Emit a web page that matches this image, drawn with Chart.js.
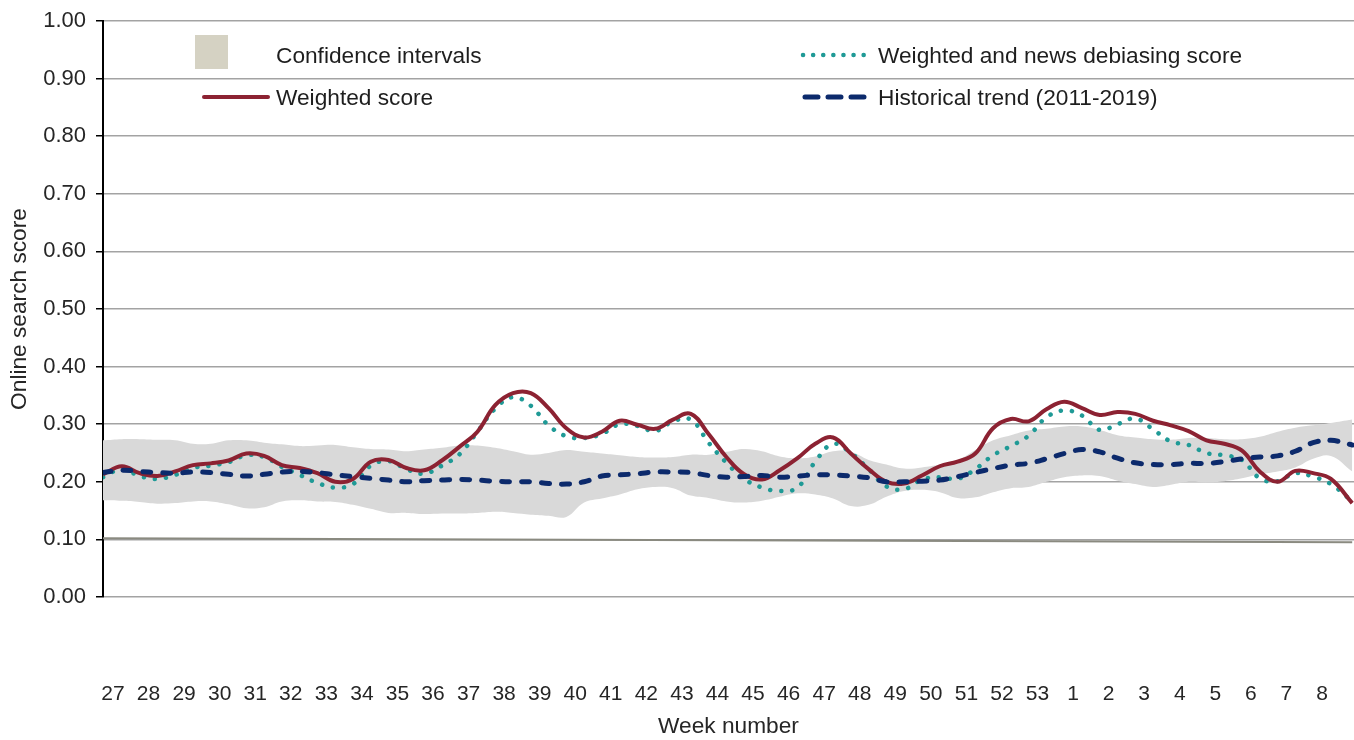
<!DOCTYPE html>
<html>
<head>
<meta charset="utf-8">
<script src="https://cdn.jsdelivr.net/npm/chart.js@4.4.1/dist/chart.umd.min.js"></script>
<style>
body{ margin:0; background:#fff; }
#wrap{ position:relative; width:1354px; height:740px; font-family:"Liberation Sans", Arial, sans-serif; color:#1e1e1e; }
#myChart{ position:absolute; left:0; top:0; }
.lg{ position:absolute; font-size:22.7px; line-height:22px; white-space:nowrap; }
</style>
</head>
<body>
<div id="wrap">
<canvas id="myChart" width="1354" height="740"></canvas>

<div style="position:absolute;left:195px;top:35px;width:33px;height:34px;background:#d5d2c3;"></div>
<div class="lg" style="left:276px;top:44px;">Confidence intervals</div>

<div style="position:absolute;left:202px;top:95px;width:68px;height:4px;border-radius:2px;background:#8c2232;"></div>
<div class="lg" style="left:276px;top:86px;">Weighted score</div>

<svg style="position:absolute;left:798px;top:48px;" width="75" height="14">
  <line x1="5" y1="7" x2="70" y2="7" stroke="#1f9a96" stroke-width="4.5" stroke-linecap="round" stroke-dasharray="0.1 10"/>
</svg>
<div class="lg" style="left:878px;top:44px;">Weighted and news debiasing score</div>

<svg style="position:absolute;left:798px;top:90px;" width="75" height="14">
  <line x1="7" y1="7" x2="68" y2="7" stroke="#0c2a6c" stroke-width="5" stroke-linecap="round" stroke-dasharray="13 10"/>
</svg>
<div class="lg" style="left:878px;top:86px;">Historical trend (2011-2019)</div>
</div>

<script>

//------------------------------------------------------------------
// week labels, one per tick (27 .. 53, then 1 .. 8)

const weekLabels = ['27','28','29','30','31','32','33','34','35','36','37','38','39','40','41','42','43','44','45','46',
                    '47','48','49','50','51','52','53','1','2','3','4','5','6','7','8'];

// position of each reading, in weeks from week 27
const weekPos = [-0.28, 0.25, 0.75, 1.25, 1.75, 2.25, 2.75, 3.25, 3.75, 4.25, 4.75, 5.25, 5.75, 6.25, 6.75,
                 7.25, 7.75, 8.25, 8.75, 9.25, 9.75, 10.25, 10.75, 11.25, 11.75, 12.25, 12.75, 13.25, 13.75,
                 14.25, 14.75, 15.25, 15.75, 16.25, 16.75, 17.25, 17.75, 18.25, 18.75, 19.25, 19.75, 20.25,
                 20.75, 21.25, 21.75, 22.25, 22.75, 23.25, 23.75, 24.25, 24.75, 25.25, 25.75, 26.25, 26.75,
                 27.25, 27.75, 28.25, 28.75, 29.25, 29.75, 30.25, 30.75, 31.25, 31.75, 32.25, 32.75, 33.25,
                 33.75, 34.25, 34.85];

const weighted = [0.213, 0.227, 0.215, 0.210, 0.218, 0.229, 0.232, 0.237, 0.249, 0.245, 0.229, 0.224, 0.215, 0.200,
                  0.205, 0.235, 0.238, 0.224, 0.220, 0.237, 0.261, 0.287, 0.333, 0.354, 0.354, 0.328, 0.293,
                  0.277, 0.287, 0.306, 0.299, 0.292, 0.308, 0.318, 0.283, 0.243, 0.213, 0.204, 0.220, 0.241,
                  0.266, 0.277, 0.249, 0.222, 0.200, 0.197, 0.211, 0.227, 0.235, 0.249, 0.293, 0.309, 0.305,
                  0.326, 0.339, 0.328, 0.316, 0.321, 0.318, 0.306, 0.298, 0.288, 0.272, 0.266, 0.254, 0.218,
                  0.200, 0.219, 0.215, 0.205, 0.163];

const debiased = [0.208, 0.222, 0.210, 0.205, 0.212, 0.224, 0.228, 0.234, 0.246, 0.243, 0.226, 0.212, 0.198, 0.190,
                  0.196, 0.228, 0.236, 0.222, 0.214, 0.228, 0.248, 0.287, 0.327, 0.347, 0.332, 0.298, 0.279,
                  0.276, 0.283, 0.300, 0.297, 0.288, 0.305, 0.308, 0.268, 0.233, 0.205, 0.190, 0.184, 0.190,
                  0.235, 0.266, 0.250, 0.222, 0.192, 0.187, 0.204, 0.208, 0.205, 0.222, 0.246, 0.262, 0.280,
                  0.312, 0.324, 0.315, 0.290, 0.300, 0.310, 0.291, 0.270, 0.264, 0.250, 0.246, 0.238, 0.206,
                  0.201, 0.215, 0.209, 0.196, 0.166];

const historical = [0.216, 0.220, 0.218, 0.216, 0.215, 0.217, 0.216, 0.213, 0.210, 0.213, 0.217, 0.218, 0.216, 0.212,
                    0.209, 0.206, 0.203, 0.200, 0.202, 0.203, 0.204, 0.203, 0.201, 0.200, 0.200, 0.197, 0.196,
                    0.200, 0.210, 0.212, 0.214, 0.217, 0.217, 0.216, 0.211, 0.208, 0.209, 0.211, 0.208, 0.210,
                    0.212, 0.212, 0.210, 0.207, 0.200, 0.200, 0.201, 0.203, 0.209, 0.216, 0.223, 0.229, 0.232,
                    0.240, 0.249, 0.256, 0.252, 0.241, 0.233, 0.230, 0.230, 0.232, 0.232, 0.235, 0.240, 0.243,
                    0.245, 0.253, 0.268, 0.272, 0.264];

const ciUpper = [0.272, 0.274, 0.274, 0.273, 0.272, 0.266, 0.266, 0.272, 0.272, 0.268, 0.265, 0.262, 0.263, 0.264,
                 0.260, 0.257, 0.256, 0.253, 0.256, 0.259, 0.263, 0.263, 0.259, 0.253, 0.247, 0.250, 0.255,
                 0.252, 0.249, 0.246, 0.243, 0.242, 0.243, 0.247, 0.247, 0.252, 0.257, 0.253, 0.244, 0.241,
                 0.244, 0.253, 0.252, 0.238, 0.230, 0.223, 0.225, 0.230, 0.237, 0.255, 0.272, 0.281, 0.289,
                 0.292, 0.296, 0.296, 0.290, 0.281, 0.277, 0.274, 0.273, 0.276, 0.276, 0.274, 0.274, 0.278,
                 0.287, 0.294, 0.298, 0.302, 0.308];

const ciLower = [0.168, 0.167, 0.165, 0.162, 0.163, 0.166, 0.166, 0.161, 0.154, 0.156, 0.166, 0.168, 0.166, 0.165,
                 0.160, 0.153, 0.146, 0.146, 0.144, 0.145, 0.145, 0.146, 0.148, 0.146, 0.143, 0.141, 0.139,
                 0.164, 0.171, 0.178, 0.187, 0.191, 0.189, 0.176, 0.172, 0.166, 0.164, 0.167, 0.174, 0.180,
                 0.178, 0.171, 0.158, 0.160, 0.174, 0.184, 0.186, 0.182, 0.172, 0.173, 0.182, 0.189, 0.191,
                 0.200, 0.208, 0.211, 0.210, 0.202, 0.196, 0.191, 0.195, 0.200, 0.199, 0.201, 0.206, 0.213,
                 0.218, 0.225, 0.240, 0.245, 0.218];

// thin reference line drawn near 0.10
const refPos = [-0.28, 34.85];
const refLine = [0.102, 0.095];

const yTicks = [0, 0.1, 0.2, 0.3, 0.4, 0.5, 0.6, 0.7, 0.8, 0.9, 1.0];

//------------------------------------------------------------------

function pts(xs, ys){
    let out = [];
    for (let i = 0; i < ys.length; i++) {
        out.push({x: xs[i], y: ys[i]});
    }
    return out;
}

const ctx = document.getElementById('myChart');

const kave_chart = new Chart(ctx, {
    type: 'line',
    data: {
        datasets: [
            {
                label: 'Historical trend (2011-2019)',
                data: pts(weekPos, historical),
                borderColor: '#0c2a6c',
                borderWidth: 5,
                borderDash: [8, 12],
                borderCapStyle: 'round',
                pointRadius: 0,
                tension: 0.4,
                fill: false
            },
            {
                label: 'Weighted score',
                data: pts(weekPos, weighted),
                borderColor: '#8c2232',
                borderWidth: 4,
                pointRadius: 0,
                tension: 0.4,
                fill: false
            },
            {
                label: 'Weighted and news debiasing score',
                data: pts(weekPos, debiased),
                borderColor: '#1f9a96',
                borderWidth: 4.5,
                borderDash: [0.1, 11],
                borderCapStyle: 'round',
                pointRadius: 0,
                tension: 0.4,
                fill: false
            },
            {
                label: 'ref',
                data: pts(refPos, refLine),
                borderColor: '#8a8a80',
                borderWidth: 2,
                pointRadius: 0,
                fill: false
            },
            {
                label: 'Confidence intervals',
                data: pts(weekPos, ciUpper),
                borderWidth: 0,
                borderColor: 'rgba(0,0,0,0)',
                backgroundColor: '#d9d9d9',
                pointRadius: 0,
                tension: 0.4,
                fill: '+1'
            },
            {
                label: 'ci lower',
                data: pts(weekPos, ciLower),
                borderWidth: 0,
                borderColor: 'rgba(0,0,0,0)',
                pointRadius: 0,
                tension: 0.4,
                fill: false
            }
        ]
    },
    options: {
        responsive: false,
        animation: false,
        layout: { padding: { top: 21, right: 0, bottom: 0, left: 0 } },
        plugins: {
            legend: { display: false },
            tooltip: { enabled: false }
        },
        scales: {
            x: {
                type: 'linear',
                min: -0.28,
                max: 34.9,
                afterBuildTicks: function(axis){
                    axis.ticks = weekLabels.map(function(_, i){ return {value: i}; });
                },
                afterFit: function(axis){
                    axis.height = 143;
                    axis.paddingLeft = 0;
                    axis.paddingRight = 0;
                },
                grid: { display: false, drawTicks: false },
                border: { display: false },
                ticks: {
                    autoSkip: false,
                    maxRotation: 0,
                    padding: 85,
                    color: '#262626',
                    font: { family: '"Liberation Sans", Arial', size: 21 },
                    callback: function(v){ return weekLabels[Math.round(v)]; }
                },
                title: {
                    display: true,
                    text: 'Week number',
                    color: '#262626',
                    padding: { top: 0, bottom: 0 },
                    font: { family: '"Liberation Sans", Arial', size: 22.7 }
                }
            },
            y: {
                min: 0,
                max: 1,
                afterBuildTicks: function(axis){
                    axis.ticks = yTicks.map(function(v){ return {value: v}; });
                },
                afterFit: function(axis){
                    axis.width = 103;
                    axis.paddingTop = 0;
                    axis.paddingBottom = 0;
                },
                grid: {
                    color: '#a3a3a3',
                    lineWidth: 1.5,
                    tickColor: '#000',
                    tickLength: 7,
                    tickWidth: 1.5
                },
                border: { display: true, color: '#000', width: 2 },
                ticks: {
                    padding: 10,
                    color: '#262626',
                    font: { family: '"Liberation Sans", Arial', size: 22 },
                    callback: function(v){ return Number(v).toFixed(2); }
                },
                title: {
                    display: true,
                    text: 'Online search score',
                    color: '#262626',
                    padding: { top: 6, bottom: 0 },
                    font: { family: '"Liberation Sans", Arial', size: 22.7 }
                }
            }
        }
    }
});

</script>
</body>
</html>
